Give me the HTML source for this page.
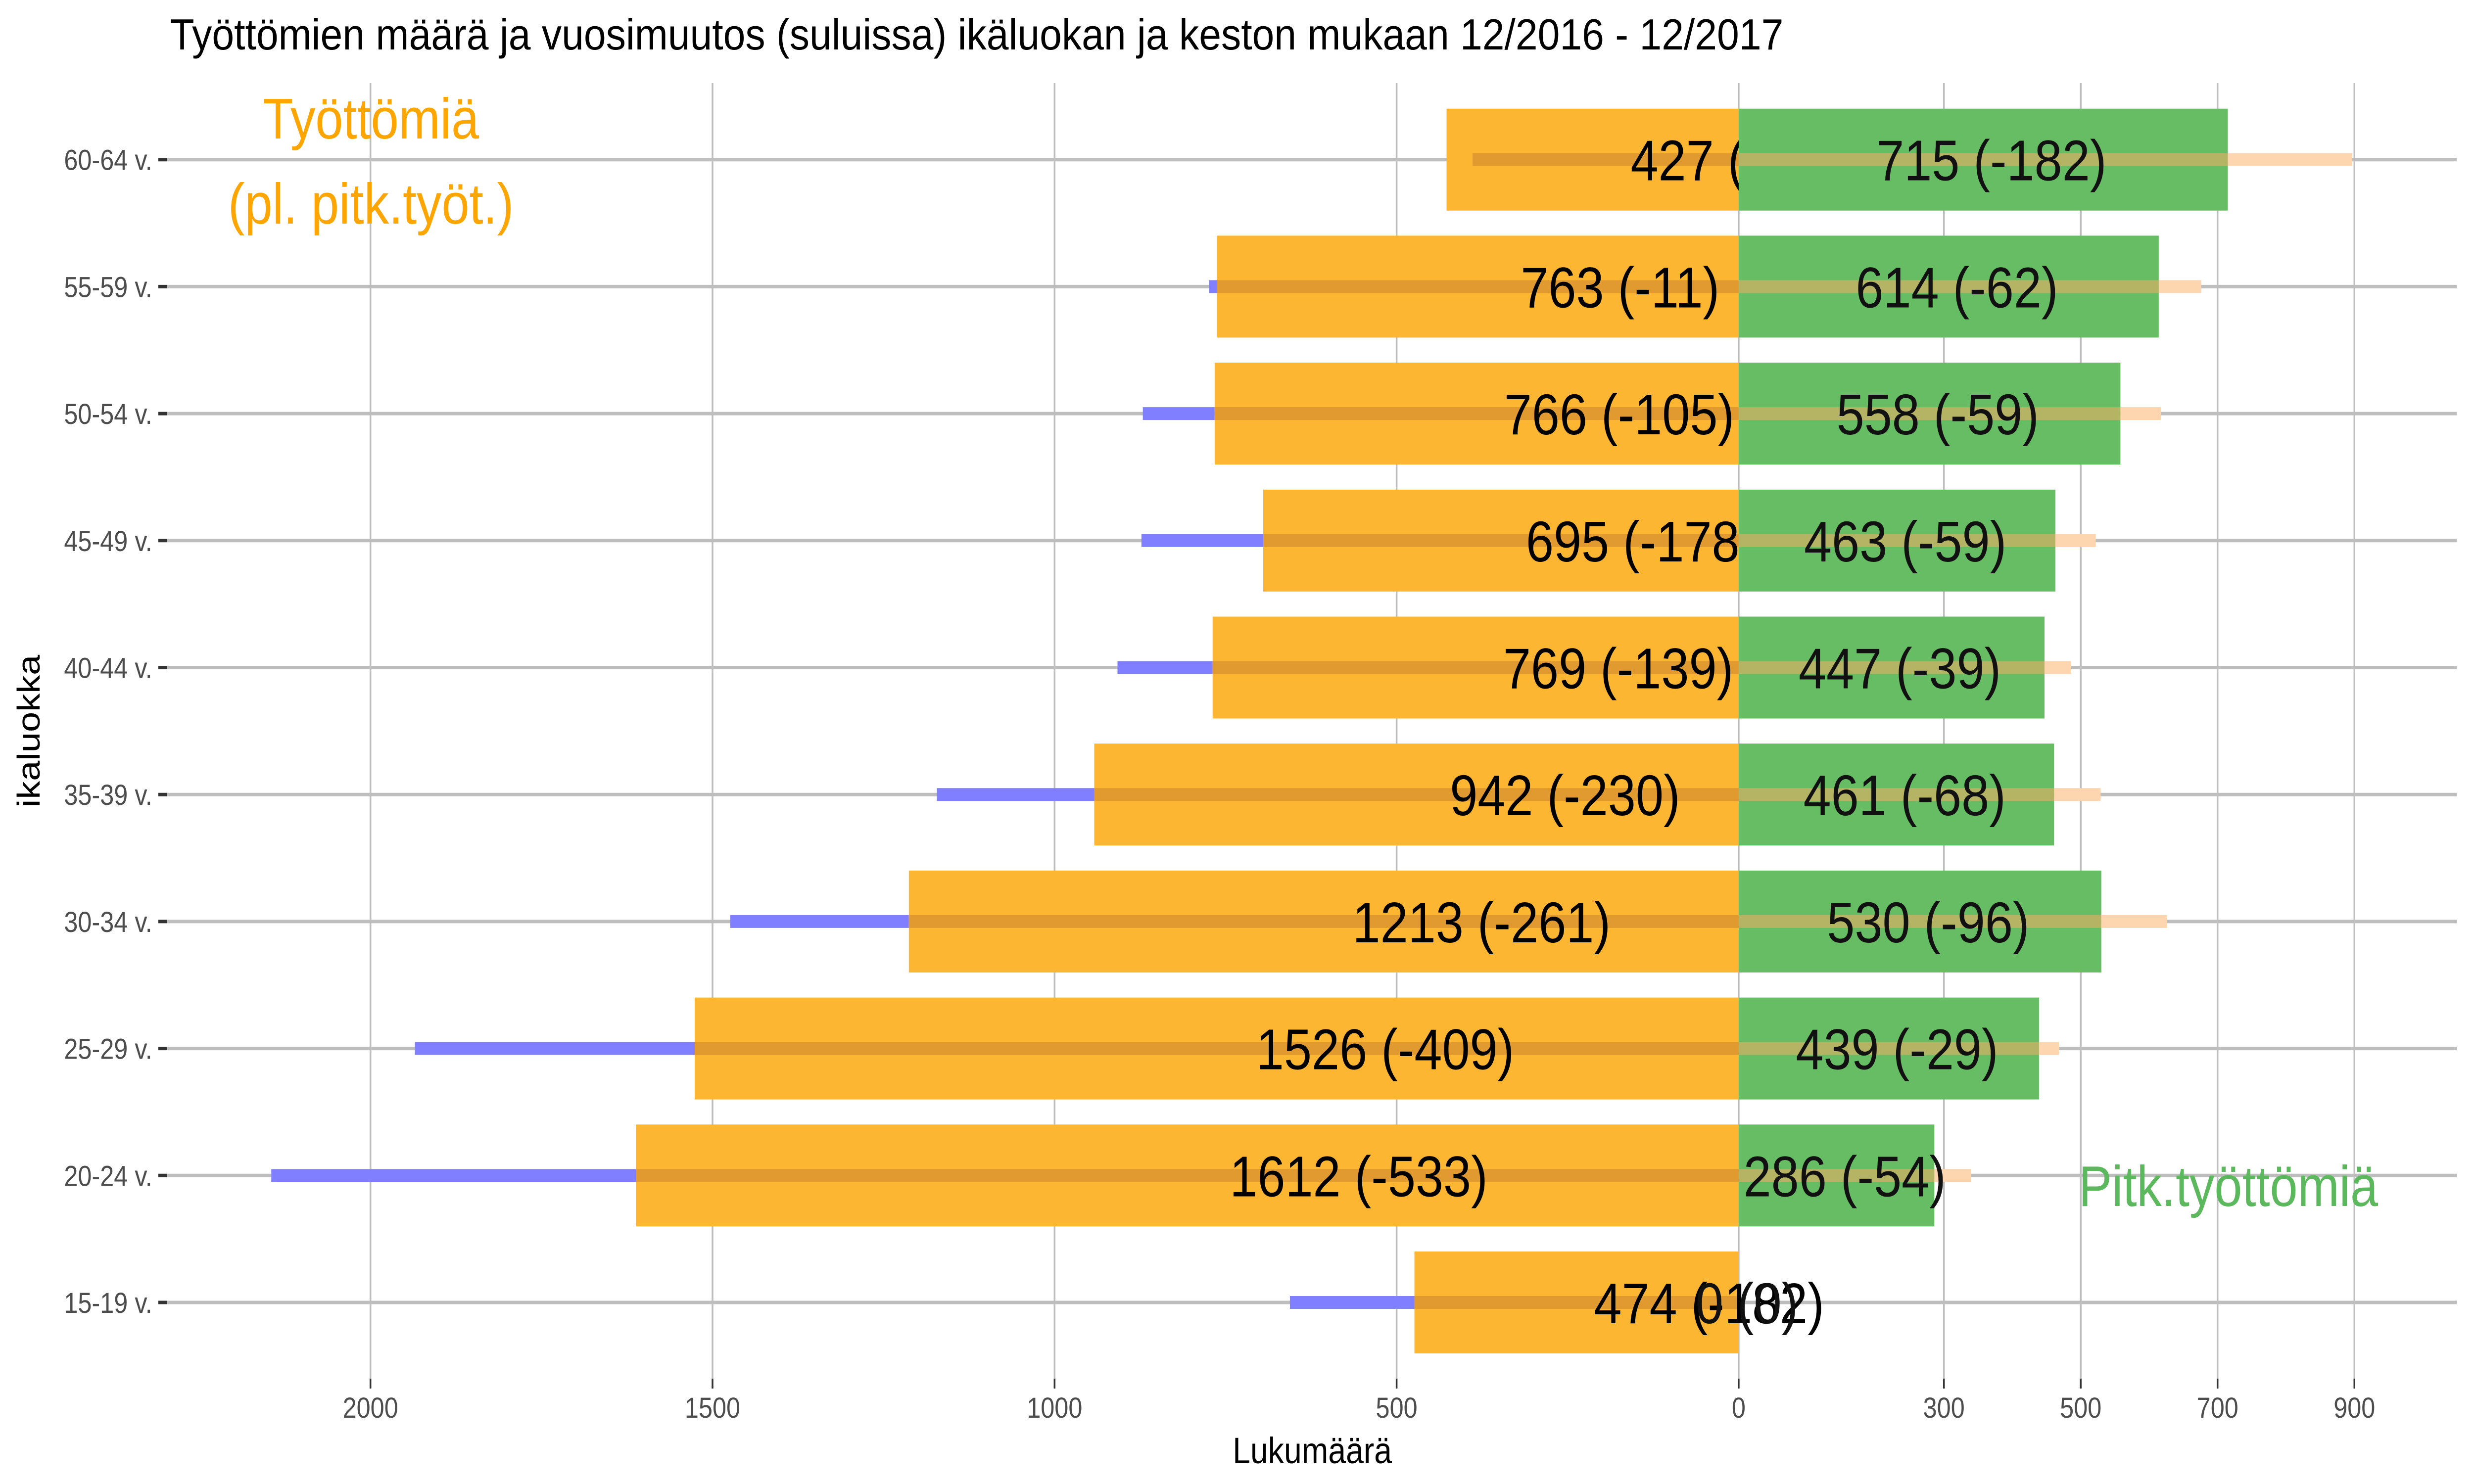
<!DOCTYPE html>
<html><head><meta charset="utf-8"><style>
html,body{margin:0;padding:0;background:#fff;overflow:hidden;width:100%;height:100%;}
svg{display:block;width:100vw;height:100vh;font-family:"Liberation Sans",Arial,sans-serif;}
</style></head><body>
<svg id="chart" viewBox="0 0 5750 3000" preserveAspectRatio="none" xmlns="http://www.w3.org/2000/svg">
<rect width="5750" height="3000" fill="#fff"/>
<text x="395" y="100" font-size="88" textLength="3750" lengthAdjust="spacingAndGlyphs" fill="#000">Työttömien määrä ja vuosimuutos (suluissa) ikäluokan ja keston mukaan 12/2016 - 12/2017</text>
<g id="grid"></g><g id="marks"></g><g id="axes"></g>
<text x="862" y="280" font-size="116" fill="#FFA500" text-anchor="middle">Työttömiä</text>
<text x="862" y="452" font-size="116" fill="#FFA500" text-anchor="middle">(pl. pitk.työt.)</text>
<text x="5179" y="2438" font-size="116" fill="#5cb85c" text-anchor="middle">Pitk.työttömiä</text>
<text x="3050" y="2958" font-size="74" fill="#000" text-anchor="middle">Lukumäärä</text>
<text x="0" y="0" font-size="74" fill="#000" text-anchor="middle" transform="translate(92,1478) rotate(-90)">ikaluokka</text>
</svg>
<script>
const categories = ["15-19 v.","20-24 v.","25-29 v.","30-34 v.","35-39 v.","40-44 v.","45-49 v.","50-54 v.","55-59 v.","60-64 v."];
const shortTerm = [474,1612,1526,1213,942,769,695,766,763,427];
const shortChange = [-182,-533,-409,-261,-230,-139,-178,-105,-11,38];
const longTerm = [0,286,439,530,461,447,463,558,614,715];
const longChange = [0,-54,-29,-96,-68,-39,-59,-59,-62,-182];
const leftTicks = [2000,1500,1000,500,0];
const rightTicks = [300,500,700,900];

const NS="http://www.w3.org/2000/svg";
const X0=4041, K=1.59;
function xL(v){return X0-v*K;}
function xR(v){return X0+v*K;}
function yC(i){return 2633-i*256.7;}
const PL=388, PR=5710, PT=168, PB=2787;
function mk(tag,attrs,parent){const e=document.createElementNS(NS,tag);for(const k in attrs)e.setAttribute(k,attrs[k]);parent.appendChild(e);return e;}
const grid=document.getElementById('grid'), marks=document.getElementById('marks'), axes=document.getElementById('axes');

leftTicks.forEach(t=>{
  const x=xL(t);
  const g=mk('line',{x1:x,x2:x,y1:PT,y2:PB,stroke:'#bebebe','stroke-width':4},grid);
  
  
  const tk=mk('line',{x1:x,x2:x,y1:PB,y2:PB+20,stroke:'#333','stroke-width':4},axes);
  
  
  const tl=mk('text',{x:x,y:2866,'font-size':58,fill:'#4d4d4d','text-anchor':'middle'},axes);
  tl.textContent=t;
  
  
});
rightTicks.forEach(t=>{
  const x=xR(t);
  const g=mk('line',{x1:x,x2:x,y1:PT,y2:PB,stroke:'#bebebe','stroke-width':4},grid);
  
  
  const tk=mk('line',{x1:x,x2:x,y1:PB,y2:PB+20,stroke:'#333','stroke-width':4},axes);
  
  
  const tl=mk('text',{x:x,y:2866,'font-size':58,fill:'#4d4d4d','text-anchor':'middle'},axes);
  tl.textContent=t;
  
  
});
categories.forEach((c,i)=>{
  const y=yC(i);
  const g=mk('line',{x1:PL,x2:PR,y1:y,y2:y,stroke:'#bebebe','stroke-width':7},grid);
  
  
  const tk=mk('line',{x1:PL-20,x2:PL,y1:y,y2:y,stroke:'#333','stroke-width':7},axes);
  
  
  const tl=mk('text',{x:354,y:y+21,'font-size':58,fill:'#4d4d4d','text-anchor':'end'},axes);
  tl.textContent=c;
  
  
});
const H=206, S=26;
categories.forEach((c,i)=>{
  const y=yC(i);
  const v=shortTerm[i], prev=v-shortChange[i];
  if(prev>v){
    const b=mk('rect',{x:xL(prev),y:y-S/2,width:(prev-v)*K,height:S,fill:'#7f7fff'},marks);
    
    
  }
  const bar=mk('rect',{x:xL(v),y:y-H/2,width:v*K,height:H,fill:'#fdb632'},marks);
  
  
  const inner=Math.min(prev,v);
  const s=mk('rect',{x:xL(inner),y:y-S/2,width:inner*K,height:S,fill:'#e09a30'},marks);
  
  
  const lab=mk('text',{x:xL(0.45*v-170),y:y+42,'font-size':116,fill:'#000','text-anchor':'middle'},marks);
  lab.textContent=v+' ('+shortChange[i]+')';
  
  
});
categories.forEach((c,i)=>{
  const y=yC(i);
  const v=longTerm[i], prev=v-longChange[i];
  if(v>0){
    const bar=mk('rect',{x:X0,y:y-H/2,width:v*K,height:H,fill:'#66bd63'},marks);
    
    
  }
  const inner=Math.min(prev,v);
  if(inner>0){
    const s=mk('rect',{x:X0,y:y-S/2,width:inner*K,height:S,fill:'#b4b464'},marks);
    
    
  }
  if(prev>v){
    const s2=mk('rect',{x:xR(v),y:y-S/2,width:(prev-v)*K,height:S,fill:'#fdd5ae'},marks);
    
    
  }
  const lab=mk('text',{x:xR(v/2+12),y:y+42,'font-size':116,fill:'#111','text-anchor':'middle'},marks);
  lab.textContent=v+' ('+longChange[i]+')';
  
  
});
</script>
</body></html>
